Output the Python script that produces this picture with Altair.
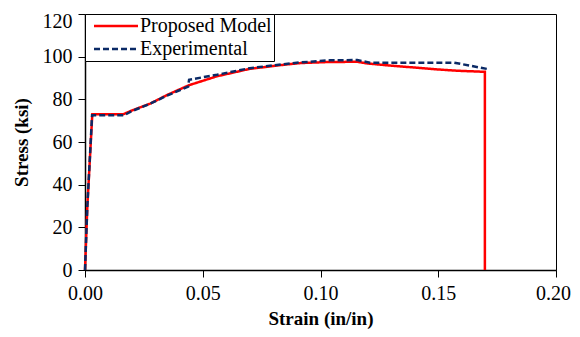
import altair as alt
import pandas as pd

# Proposed Model (red, solid)
prop_strain = [0.0, 0.001, 0.0031, 0.0162, 0.020, 0.0277, 0.0348, 0.0441, 0.056, 0.070,
               0.0844, 0.0915, 0.1035, 0.1156, 0.120, 0.1298, 0.1433, 0.150, 0.158, 0.1698, 0.1698]
prop_stress = [0.0, 30.0, 73.0, 73.0, 74.8, 78.0, 82.0, 86.6, 90.8, 94.3,
               96.2, 97.0, 97.5, 97.6, 96.8, 95.8, 94.6, 94.0, 93.4, 92.9, 0.0]

# Experimental (navy, dashed)
exp_strain = [0.0, 0.001, 0.003, 0.0165, 0.020, 0.0277, 0.0348, 0.0438, 0.0442, 0.056,
              0.070, 0.0844, 0.0915, 0.104, 0.1156, 0.121, 0.1567, 0.171]
exp_stress = [0.0, 30.0, 72.5, 72.5, 74.5, 78.0, 81.7, 86.0, 89.2, 91.5,
              94.6, 96.5, 97.3, 98.3, 98.4, 97.2, 97.2, 94.2]

series_names = ["Proposed Model", "Experimental"]
series_colors = ["#FF0000", "#0B2A66"]
series_dashes = [[1, 0], [6, 3]]

x_ticks = [0.0, 0.05, 0.10, 0.15, 0.20]
y_ticks = [0, 20, 40, 60, 80, 100, 120]

df = pd.concat([
    pd.DataFrame({"strain": prop_strain, "stress": prop_stress, "series": series_names[0],
                  "order": range(len(prop_strain))}),
    pd.DataFrame({"strain": exp_strain, "stress": exp_stress, "series": series_names[1],
                  "order": range(len(exp_strain))}),
])

FONT = "Liberation Serif"

x_enc = alt.X("strain:Q", scale=alt.Scale(domain=[0, 0.2], nice=False),
              axis=alt.Axis(values=x_ticks, format=".2f", title="Strain (in/in)",
                            labelFlush=False,
                            labelOffset=alt.ExprRef("datum.value >= 0.199 ? -3 : 0")))
y_enc = alt.Y("stress:Q", scale=alt.Scale(domain=[0, 120], nice=False),
              axis=alt.Axis(values=y_ticks, title="Stress (ksi)", labelFlush=False,
                            labelOffset=alt.ExprRef("datum.value == 120 ? 7 : 0")))
color_enc = alt.Color("series:N", scale=alt.Scale(domain=series_names, range=series_colors),
                      title=None,
                      legend=alt.Legend(orient="none", legendX=0, legendY=0,
                                        symbolType="M-1,0L7.8,0", symbolSize=100,
                                        symbolStrokeWidth=2.5, padding=2, symbolOffset=2,
                                        labelOffset=31, rowPadding=3,
                                        strokeColor="black", fillColor="white",
                                        labelFont=FONT, labelFontSize=20, labelColor="black",
                                        labelLimit=300))
dash_enc = alt.StrokeDash("series:N", scale=alt.Scale(domain=series_names, range=series_dashes),
                          title=None, legend=None)

base = alt.Chart(df)
red = base.transform_filter(alt.datum.series == series_names[0]).mark_line(strokeWidth=2.5).encode(
    x=x_enc, y=y_enc, color=color_enc, strokeDash=dash_enc, order="order:Q")
blue = base.transform_filter(alt.datum.series == series_names[1]).mark_line(strokeWidth=2.5).encode(
    x=x_enc, y=y_enc, color=color_enc, strokeDash=dash_enc, order="order:Q")

chart = alt.layer(red, blue).properties(
    width=471, height=256,
    autosize=alt.AutoSizeParams(type="none"),
    padding={"left": 77, "top": 6, "right": 16, "bottom": 59},
).configure_view(stroke="black", strokeWidth=1).configure_axis(
    grid=False, domainColor="black", domainWidth=1.5, tickColor="black", tickSize=7,
    labelFont=FONT, labelFontSize=20, labelColor="black", labelPadding=6,
    titleFont=FONT, titleFontSize=19, titleFontWeight="bold", titleColor="black",
).configure_axisY(titlePadding=11).configure_axisX(titlePadding=6)

chart.save("out.html", embed_options={"renderer": "svg", "actions": False})
